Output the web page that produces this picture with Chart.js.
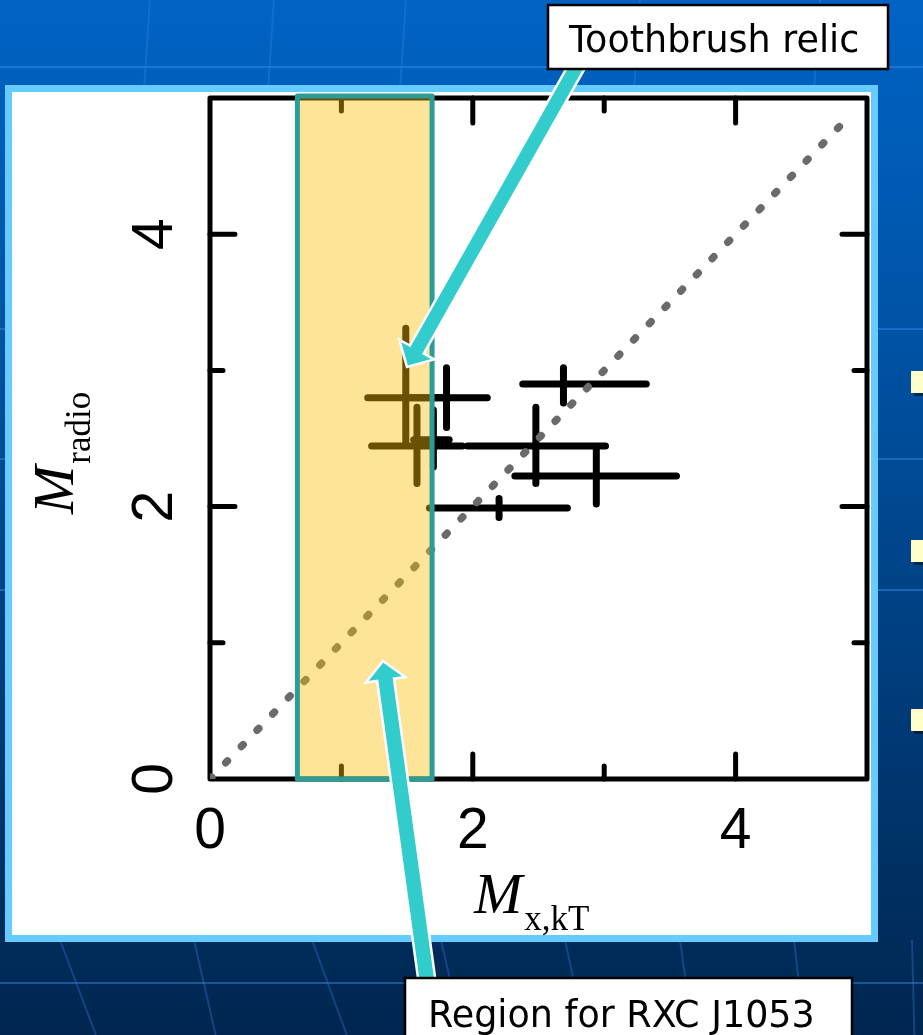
<!DOCTYPE html>
<html>
<head>
<meta charset="utf-8">
<style>
  html, body { margin: 0; padding: 0; background: #003a78; overflow: hidden; }
  canvas { display: block; }
</style>
<script src="https://cdn.jsdelivr.net/npm/chart.js@4/dist/chart.umd.min.js"></script>
</head>
<body>
<canvas id="chart" width="923" height="1035"></canvas>
<script>
// Shock Mach numbers: X-ray temperature jump (x) vs radio spectral index (y)
const machX         = [1.49, 1.80, 1.575, 1.70, 2.48, 2.94, 2.69, 2.20];
const machXLow      = [1.20, 1.49, 1.23, 1.55, 1.96, 2.32, 2.38, 1.67];
const machXHigh     = [1.78, 2.11, 1.92, 1.82, 3.01, 3.55, 3.32, 2.72];
const machRadio     = [2.80, 2.80, 2.445, 2.49, 2.445, 2.225, 2.90, 1.99];
const machRadioLow  = [2.47, 2.58, 2.17, 2.29, 2.17, 2.02, 2.76, 1.92];
const machRadioHigh = [3.31, 3.02, 2.73, 2.71, 2.73, 2.43, 3.02, 2.06];

// one-to-one reference line end points
const equalityLine = [0, 4.88];

// allowed Mach range for RXC J1053 (x), spanning the full y range
const regionX = [0.665, 1.69];
const regionY = [0, 5.015];

const axisMin = 0, axisMax = 5;
const labeledTicks = [0, 2, 4];
const majorTicks = [2, 4];
const minorTicks = [1, 3];

const calloutTop = 'Toothbrush relic';
const calloutBottom = 'Region for RXC J1053';

// ---- datasets ----
const barStyle = {
  showLine: true, borderColor: '#000', borderWidth: 7, borderCapStyle: 'round',
  pointRadius: 0, pointHoverRadius: 0, fill: false
};
const errorBarSets = machX.flatMap((x, i) => [
  { ...barStyle, data: [{ x: machXLow[i], y: machRadio[i] }, { x: machXHigh[i], y: machRadio[i] }] },
  { ...barStyle, data: [{ x: x, y: machRadioLow[i] }, { x: x, y: machRadioHigh[i] }] }
]);
const equalitySet = {
  showLine: true, borderColor: '#6a6a6a', borderWidth: 7.5, borderCapStyle: 'round',
  borderDash: [2.5, 20.1], pointRadius: 0, pointHoverRadius: 0, fill: false,
  data: [{ x: equalityLine[0], y: equalityLine[0] }, { x: equalityLine[1], y: equalityLine[1] }]
};

// ---- slide backdrop, panel, frame, shaded region, labels and callouts ----
const slidePlugin = {
  id: 'slide',
  beforeDraw(chart) {
    const ctx = chart.ctx, W = chart.width, H = chart.height;
    ctx.save();
    const g = ctx.createLinearGradient(0, 0, 0, H);
    g.addColorStop(0, '#0063c4');
    g.addColorStop(0.3, '#0054a8');
    g.addColorStop(0.65, '#003d7c');
    g.addColorStop(1, '#00264f');
    ctx.fillStyle = g;
    ctx.fillRect(0, 0, W, H);

    // faint floor grid
    ctx.strokeStyle = 'rgba(60,140,235,0.45)';
    ctx.lineWidth = 2;
    [67, 329, 459, 590, 983].forEach(y => {
      ctx.beginPath(); ctx.moveTo(0, y); ctx.lineTo(W, y); ctx.stroke();
    });
    ctx.strokeStyle = 'rgba(60,140,235,0.3)';
    [[150, 144], [274, 268], [406, 400], [640, 634], [820, 814]].forEach(([a, b]) => {
      ctx.beginPath(); ctx.moveTo(a, 0); ctx.lineTo(b, 90); ctx.stroke();
    });
    [[60, 90], [194, 212], [312, 341], [441, 459], [565, 582], [680, 691], [794, 803], [912, 914]].forEach(([a, b]) => {
      ctx.beginPath(); ctx.moveTo(a, 940); ctx.lineTo(b + (b - a) * 0.2, 1035); ctx.stroke();
    });

    // bullet squares at the right edge
    [371, 540, 709].forEach(y => {
      ctx.fillStyle = 'rgba(0,0,0,0.45)';
      ctx.fillRect(914, y + 3, 20, 22);
      ctx.fillStyle = '#ffffc8';
      ctx.fillRect(911, y, 20, 22);
    });

    // white panel with light blue border
    ctx.fillStyle = '#ffffff';
    ctx.fillRect(8, 88, 867, 851);
    ctx.strokeStyle = '#66ccff';
    ctx.lineWidth = 7;
    ctx.strokeRect(8.5, 88.5, 866, 850);
    ctx.restore();
  },
  beforeDatasetsDraw(chart) {
    const ctx = chart.ctx, a = chart.chartArea;
    const xs = chart.scales.x, ys = chart.scales.y;
    ctx.save();
    ctx.strokeStyle = '#000';
    ctx.lineWidth = 5;
    ctx.lineCap = 'round';
    ctx.lineJoin = 'round';
    ctx.strokeRect(a.left, a.top, a.right - a.left, a.bottom - a.top);
    const tick = (vals, len) => {
      vals.forEach(v => {
        const px = xs.getPixelForValue(v), py = ys.getPixelForValue(v);
        ctx.beginPath();
        ctx.moveTo(px, a.bottom); ctx.lineTo(px, a.bottom - len);
        ctx.moveTo(px, a.top); ctx.lineTo(px, a.top + len);
        ctx.moveTo(a.left, py); ctx.lineTo(a.left + len, py);
        ctx.moveTo(a.right, py); ctx.lineTo(a.right - len, py);
        ctx.stroke();
      });
    };
    tick(majorTicks, 25);
    tick(minorTicks, 13);
    ctx.restore();
  },
  afterDatasetsDraw(chart) {
    const ctx = chart.ctx;
    const xs = chart.scales.x, ys = chart.scales.y;
    const x0 = xs.getPixelForValue(regionX[0]), x1 = xs.getPixelForValue(regionX[1]);
    const y0 = ys.getPixelForValue(regionY[1]), y1 = ys.getPixelForValue(regionY[0]);
    ctx.save();
    ctx.fillStyle = 'rgba(251,190,10,0.42)';
    ctx.fillRect(x0, y0, x1 - x0, y1 - y0);
    ctx.strokeStyle = '#2b9d96';
    ctx.lineWidth = 5;
    ctx.lineJoin = 'round';
    ctx.strokeRect(x0, y0, x1 - x0, y1 - y0);
    ctx.restore();
  },
  afterDraw(chart) {
    const ctx = chart.ctx;
    ctx.save();
    ctx.fillStyle = '#000';
    ctx.textBaseline = 'alphabetic';
    ctx.textAlign = 'left';

    // y axis title: M_radio, rotated
    ctx.save();
    ctx.translate(73, 514);
    ctx.rotate(-Math.PI / 2);
    ctx.font = 'italic 58px "Liberation Serif", "Times New Roman", serif';
    ctx.fillText('M', 0, 0);
    let w = ctx.measureText('M').width;
    ctx.font = '35px "Liberation Serif", "Times New Roman", serif';
    ctx.fillText('radio', w + 2, 17);
    ctx.restore();

    // x axis title: M_x,kT
    ctx.font = 'italic 58px "Liberation Serif", "Times New Roman", serif';
    ctx.fillText('M', 474, 913);
    w = ctx.measureText('M').width;
    ctx.font = '35px "Liberation Serif", "Times New Roman", serif';
    ctx.fillText('x,kT', 474 + w + 2, 930);

    // block arrows
    const arrow = (sx, sy, tx, ty, shaft, headW, headL) => {
      const dx = tx - sx, dy = ty - sy, L = Math.hypot(dx, dy);
      const ux = dx / L, uy = dy / L, nx = -uy, ny = ux;
      const bx = tx - ux * headL, by = ty - uy * headL;
      const p = [
        [sx + nx * shaft / 2, sy + ny * shaft / 2],
        [bx + nx * shaft / 2, by + ny * shaft / 2],
        [bx + nx * headW / 2, by + ny * headW / 2],
        [tx, ty],
        [bx - nx * headW / 2, by - ny * headW / 2],
        [bx - nx * shaft / 2, by - ny * shaft / 2],
        [sx - nx * shaft / 2, sy - ny * shaft / 2]
      ];
      ctx.beginPath();
      p.forEach(([x, y], i) => i ? ctx.lineTo(x, y) : ctx.moveTo(x, y));
      ctx.closePath();
      ctx.fillStyle = '#33cccc';
      ctx.fill();
      ctx.strokeStyle = '#ffffff';
      ctx.lineWidth = 2.5;
      ctx.lineJoin = 'miter';
      ctx.stroke();
    };
    arrow(577, 66, 407, 367, 16, 40, 20);
    arrow(427, 981, 383, 661, 17, 40, 19);

    // callout boxes
    const box = (x, y, bw, bh, text, tx, ty) => {
      ctx.fillStyle = '#ffffff';
      ctx.fillRect(x, y, bw, bh);
      ctx.strokeStyle = '#000';
      ctx.lineWidth = 2.5;
      ctx.strokeRect(x, y, bw, bh);
      ctx.fillStyle = '#000';
      ctx.font = '36.5px "DejaVu Sans", Verdana, sans-serif';
      ctx.fillText(text, tx, ty);
    };
    box(548, 5, 340, 64, calloutTop, 569, 52);
    box(405, 978, 447, 70, calloutBottom, 428, 1027);
    ctx.restore();
  }
};

new Chart(document.getElementById('chart'), {
  type: 'scatter',
  data: { datasets: [equalitySet, ...errorBarSets] },
  options: {
    responsive: false,
    animation: false,
    devicePixelRatio: 1,
    layout: { padding: { left: 0, top: 98, right: 56, bottom: 0 } },
    plugins: { legend: { display: false }, tooltip: { enabled: false } },
    events: [],
    scales: {
      x: {
        type: 'linear', position: 'bottom', min: axisMin, max: axisMax,
        grid: { display: false, drawTicks: false }, border: { display: false },
        ticks: {
          stepSize: 1, autoSkip: false, maxRotation: 0, minRotation: 0, padding: 19,
          color: '#000', font: { family: '"Liberation Sans", Arial, sans-serif', size: 57 },
          callback: v => labeledTicks.includes(v) ? String(v) : ''
        },
        afterFit: s => { s.height = 256; }
      },
      y: {
        type: 'linear', position: 'left', min: axisMin, max: axisMax,
        grid: { display: false, drawTicks: false }, border: { display: false },
        ticks: {
          stepSize: 1, autoSkip: false, minRotation: 90, maxRotation: 90,
          crossAlign: 'center', padding: 38,
          color: '#000', font: { family: '"Liberation Sans", Arial, sans-serif', size: 57 },
          callback: v => labeledTicks.includes(v) ? String(v) : ''
        },
        afterFit: s => { s.width = 210; }
      }
    }
  },
  plugins: [slidePlugin]
});
</script>
</body>
</html>
